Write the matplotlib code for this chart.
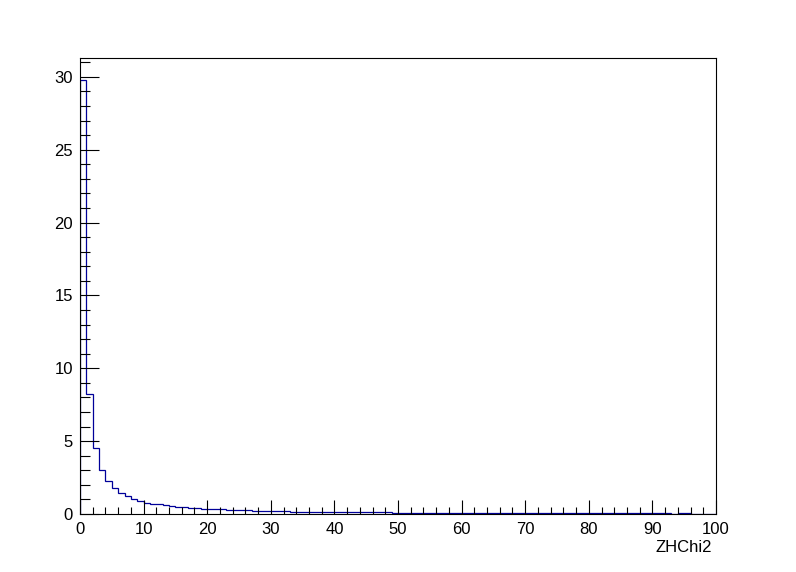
import numpy as np
import matplotlib.pyplot as plt

plt.rcParams['font.family'] = ['Liberation Sans', 'DejaVu Sans']

# histogram ZHChi2: 100 bins from 0 to 100
edges = np.arange(0, 101, 1)
counts = [29.8, 8.25, 4.56, 3.05, 2.25, 1.75, 1.41, 1.21, 1.00, 0.86,
          0.78, 0.72, 0.66, 0.60, 0.55, 0.50, 0.47, 0.43, 0.40, 0.36,
          0.34, 0.33, 0.32, 0.28, 0.27, 0.26, 0.25, 0.24, 0.20, 0.19,
          0.19, 0.18, 0.18, 0.17, 0.16, 0.13, 0.13, 0.12, 0.12, 0.12,
          0.12, 0.12, 0.11, 0.11, 0.11, 0.11, 0.11, 0.11, 0.11, 0.07,
          0.07, 0.07, 0.07, 0.07, 0.07, 0.07, 0.07, 0.07, 0.07, 0.07,
          0.07, 0.07, 0.07, 0.07, 0.07, 0.07, 0.07, 0.07, 0.07, 0.07,
          0.07, 0.07, 0.07, 0.07, 0.07, 0.07, 0.07, 0.07, 0.07, 0.07,
          0.07, 0.07, 0.07, 0.07, 0.07, 0.07, 0.07, 0.07, 0.07, 0.07,
          0.07, 0.07, 0.07, 0.00, 0.07, 0.07, 0.00, 0.00, 0.00, 0.00]

fig = plt.figure(figsize=(7.96, 5.72), dpi=100)
ax = fig.add_axes([80/796, 1 - 514/572, 636/796, 456/572])

ax.stairs(counts, edges, color='#000099', linewidth=0.9)

ax.set_xlim(0, 100)
ax.set_ylim(0, max(counts) * 1.05)
ax.set_xticks(np.arange(0, 101, 10))
ax.set_xticks(np.arange(0, 101, 2), minor=True)
ax.set_yticks(np.arange(0, 31, 5))
ax.set_yticks(np.arange(0, 32, 1), minor=True)

ax.tick_params(axis='both', which='both', direction='in', top=False, right=False,
               labelsize=12, width=0.8)
ax.tick_params(axis='x', which='major', length=9.9, pad=6)
ax.tick_params(axis='x', which='minor', length=5)
ax.tick_params(axis='y', which='major', length=13.7, pad=5)
ax.tick_params(axis='y', which='minor', length=7.5)
for s in ax.spines.values():
    s.set_linewidth(0.8)

fig.text(712/796, 1 - 548/572, 'ZHChi2', ha='right', va='center', fontsize=12)

fig.savefig('out.png', dpi=100)
